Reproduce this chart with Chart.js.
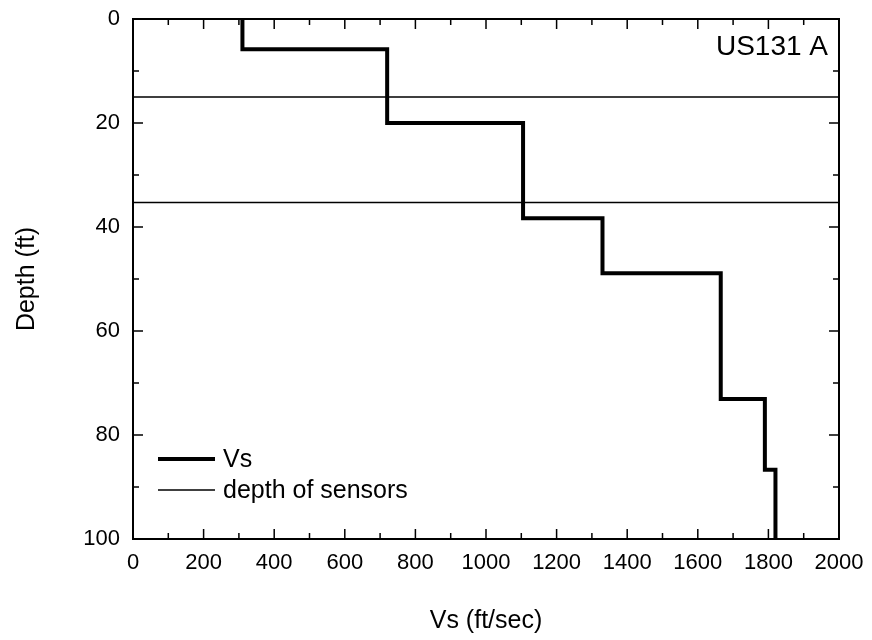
<!DOCTYPE html>
<html><head><meta charset="utf-8">
<script src="https://cdn.jsdelivr.net/npm/chart.js@4/dist/chart.umd.min.js"></script>
<style>html,body{margin:0;padding:0;background:#fff}#wrap{width:872px;height:640px}</style>
</head><body><div id="wrap"><canvas id="c" width="872" height="640"></canvas></div>
<script>
// ---- data ----
const layerVs = [310, 720, 1105, 1330, 1665, 1790, 1820];      // ft/sec
const layerBottom = [5.8, 20, 38.3, 48.9, 73.1, 86.7, 100];    // ft
const sensorDepths = [15, 35.3];                                // ft
const xTicks = [0, 200, 400, 600, 800, 1000, 1200, 1400, 1600, 1800, 2000];
const yTicks = [0, 20, 40, 60, 80, 100];
const seriesNames = ['Vs', 'depth of sensors'];
const siteLabel = 'US131 A';
const xTitle = 'Vs (ft/sec)';
const yTitle = 'Depth (ft)';

// ---- build step profile from layers ----
const profile = [];
let topD = 0;
for (let i = 0; i < layerVs.length; i++) {
  profile.push({x: layerVs[i], y: topD});
  profile.push({x: layerVs[i], y: layerBottom[i]});
  topD = layerBottom[i];
}
const xMin = xTicks[0], xMax = xTicks[xTicks.length - 1];
const yMin = yTicks[0], yMax = yTicks[yTicks.length - 1];
const sensorPts = [];
sensorDepths.forEach(d => {
  sensorPts.push({x: xMin, y: d}, {x: xMax, y: d}, {x: null, y: null});
});

const FONT = "'Liberation Sans', Arial, sans-serif";

const framePlugin = {
  id: 'frame',
  afterDatasetsDraw(chart) {
    const {ctx, chartArea: a, scales: {x, y}} = chart;
    ctx.save();
    ctx.strokeStyle = '#000';
    ctx.lineWidth = 2;
    ctx.strokeRect(a.left, a.top, a.right - a.left, a.bottom - a.top);
    ctx.lineWidth = 1.5;
    ctx.beginPath();
    for (let i = 0; i < xTicks.length; i++) {
      const px = x.getPixelForValue(xTicks[i]);
      ctx.moveTo(px, a.bottom); ctx.lineTo(px, a.bottom - 10);
      ctx.moveTo(px, a.top); ctx.lineTo(px, a.top + 10);
      if (i < xTicks.length - 1) {
        const pm = x.getPixelForValue((xTicks[i] + xTicks[i + 1]) / 2);
        ctx.moveTo(pm, a.bottom); ctx.lineTo(pm, a.bottom - 6);
        ctx.moveTo(pm, a.top); ctx.lineTo(pm, a.top + 6);
      }
    }
    for (let i = 0; i < yTicks.length; i++) {
      const py = y.getPixelForValue(yTicks[i]);
      ctx.moveTo(a.left, py); ctx.lineTo(a.left + 10, py);
      ctx.moveTo(a.right, py); ctx.lineTo(a.right - 10, py);
      if (i < yTicks.length - 1) {
        const pm = y.getPixelForValue((yTicks[i] + yTicks[i + 1]) / 2);
        ctx.moveTo(a.left, pm); ctx.lineTo(a.left + 6, pm);
        ctx.moveTo(a.right, pm); ctx.lineTo(a.right - 6, pm);
      }
    }
    ctx.stroke();

    // annotation
    ctx.fillStyle = '#000';
    ctx.font = '28px ' + FONT;
    ctx.textAlign = 'right';
    ctx.textBaseline = 'middle';
    ctx.fillText(siteLabel, a.right - 11, a.top + 28);

    // legend
    ctx.textAlign = 'left';
    ctx.font = '25px ' + FONT;
    const lx0 = a.left + 25, lx1 = a.left + 82;
    const ly = [a.bottom - 80, a.bottom - 49];
    chart.data.datasets.forEach((ds, i) => {
      ctx.lineWidth = ds.borderWidth;
      ctx.beginPath();
      ctx.moveTo(lx0, ly[i]); ctx.lineTo(lx1, ly[i]);
      ctx.stroke();
      ctx.fillText(ds.label, lx1 + 8, ly[i] + 1);
    });
    ctx.restore();
  }
};

new Chart(document.getElementById('c'), {
  type: 'scatter',
  data: {
    datasets: [
      {label: seriesNames[0], data: profile, showLine: true, borderColor: '#000', borderWidth: 4,
       pointRadius: 0, fill: false, tension: 0, borderJoinStyle: 'miter', borderCapStyle: 'butt'},
      {label: seriesNames[1], data: sensorPts, showLine: true, borderColor: '#000', borderWidth: 1.5,
       pointRadius: 0, fill: false, spanGaps: false}
    ]
  },
  options: {
    responsive: false,
    animation: false,
    devicePixelRatio: 1,
    layout: {padding: {top: 19, right: 33, left: 0, bottom: 0}},
    plugins: {legend: {display: false}, tooltip: {enabled: false}},
    scales: {
      x: {
        type: 'linear', position: 'bottom', min: xMin, max: xMax,
        grid: {display: false, drawTicks: false}, border: {display: false},
        afterBuildTicks: s => { s.ticks = xTicks.map(v => ({value: v})); },
        afterFit: s => { s.height = 101; s.paddingLeft = 0; s.paddingRight = 0; },
        ticks: {color: '#000', font: {family: FONT, size: 22}, padding: 11, maxRotation: 0, autoSkip: false,
                callback: v => String(v)},
        title: {display: true, text: xTitle, color: '#000', font: {family: FONT, size: 25}, padding: {top: 0, bottom: 4}}
      },
      y: {
        type: 'linear', reverse: true, min: yMin, max: yMax,
        grid: {display: false, drawTicks: false}, border: {display: false},
        afterBuildTicks: s => { s.ticks = yTicks.map(v => ({value: v})); },
        afterFit: s => { s.width = 133; s.paddingTop = 0; s.paddingBottom = 0; },
        ticks: {color: '#000', font: {family: FONT, size: 22}, padding: 13, autoSkip: false,
                callback: v => String(v)},
        title: {display: true, text: yTitle, color: '#000', font: {family: FONT, size: 25}, padding: {top: 12, bottom: 0}}
      }
    }
  },
  plugins: [framePlugin]
});
</script>
</body></html>
